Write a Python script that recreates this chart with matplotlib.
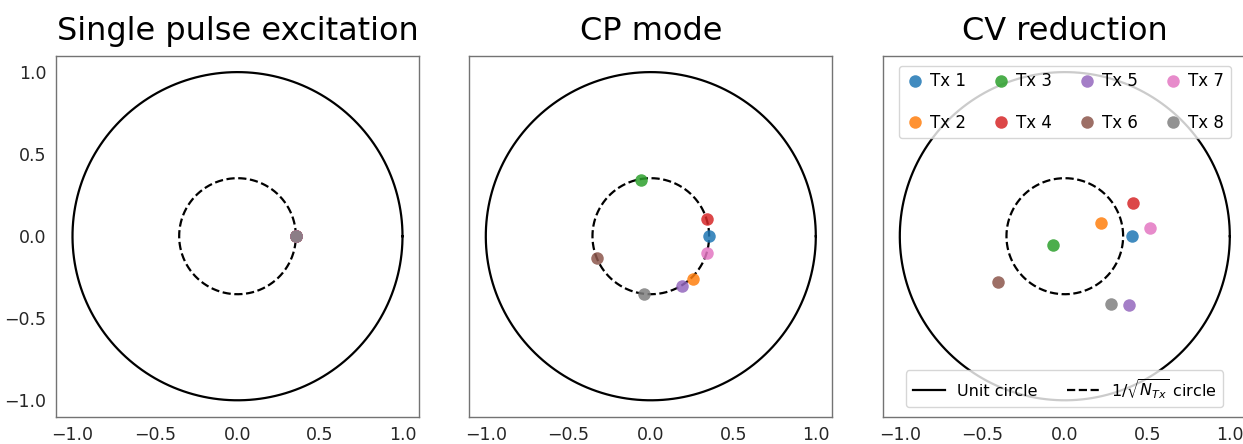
import numpy as np
import matplotlib
matplotlib.use('Agg')
import matplotlib.pyplot as plt

# transmitter labels and colours
tx_labels = ['Tx 1', 'Tx 2', 'Tx 3', 'Tx 4', 'Tx 5', 'Tx 6', 'Tx 7', 'Tx 8']
tx_colors = ['#1f77b4', '#ff7f0e', '#2ca02c', '#d62728',
             '#9467bd', '#8c564b', '#e377c2', '#7f7f7f']

titles = ['Single pulse excitation', 'CP mode', 'CV reduction']
n_tx = 8
r_inner = 1 / np.sqrt(n_tx)

# single pulse: every Tx sits at the same point
sp_x = [0.354, 0.354, 0.354, 0.354, 0.354, 0.354, 0.354, 0.354]
sp_y = [0.0, 0.0, 0.0, 0.0, 0.0, 0.0, 0.0, 0.0]

# CP mode
cp_x = [0.354, 0.255, -0.060, 0.340, 0.192, -0.327, 0.343, -0.044]
cp_y = [0.000, -0.259, 0.345, 0.105, -0.303, -0.133, -0.101, -0.355]

# CV reduction
cv_x = [0.410, 0.218, -0.070, 0.416, 0.388, -0.406, 0.517, 0.280]
cv_y = [0.000, 0.079, -0.055, 0.204, -0.420, -0.280, 0.047, -0.412]

ticks = [-1.0, -0.5, 0.0, 0.5, 1.0]

fig = plt.figure(figsize=(12.43, 4.44), dpi=100)
lefts = [56 / 1243, 469.3 / 1243, 883.3 / 1243]
axes = [fig.add_axes([l, 27.3 / 444, 363 / 1243, 361 / 444]) for l in lefts]

theta = np.linspace(0, 2 * np.pi, 400)
data = [(sp_x, sp_y), (cp_x, cp_y), (cv_x, cv_y)]

for i, ax in enumerate(axes):
    ax.plot(np.cos(theta), np.sin(theta), color='k', lw=1.6, label='Unit circle')
    ax.plot(r_inner * np.cos(theta), r_inner * np.sin(theta), color='k', lw=1.6,
            ls='--', label=r'$1/\sqrt{N_{Tx}}$ circle')
    xs, ys = data[i]
    pts = []
    for k in range(n_tx):
        p, = ax.plot(xs[k], ys[k], 'o', color=tx_colors[k], ms=9, mec='none',
                     alpha=0.85, label=tx_labels[k], zorder=3)
        pts.append(p)
    ax.set_xlim(-1.1, 1.1)
    ax.set_ylim(-1.1, 1.1)
    ax.set_xticks(ticks)
    ax.set_yticks(ticks)
    ax.tick_params(length=0, labelsize=12.5, labelcolor='0.15', pad=7)
    if i > 0:
        ax.set_yticklabels([])
    for s in ax.spines.values():
        s.set_color('0.45')
        s.set_linewidth(1.0)
    ax.set_title(titles[i], fontsize=23, pad=11)

ax = axes[2]
lines = ax.get_lines()
leg1 = ax.legend(handles=pts, ncol=4, loc='upper center', fontsize=12,
                 labelspacing=1.4, handletextpad=0.3, columnspacing=1.5,
                 borderaxespad=0.6, handlelength=1.2)
ax.add_artist(leg1)
ax.legend(handles=lines[:2], ncol=2, loc='lower center', fontsize=11.5,
          columnspacing=1.8, borderaxespad=0.6)

fig.savefig('out.png', dpi=100)
